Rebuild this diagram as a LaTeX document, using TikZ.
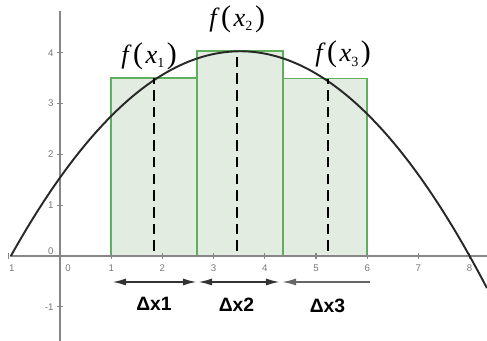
\documentclass[tikz,border=0pt]{standalone}
\usepackage{fontspec}
\setmainfont{Liberation Sans}
\newfontfamily\timesfont{Liberation Serif}
\usetikzlibrary{arrows.meta}
\definecolor{axisgray}{RGB}{135,135,135}
\definecolor{tickgray}{RGB}{120,120,120}
\definecolor{rectline}{RGB}{95,175,95}
\definecolor{rectfill}{RGB}{226,236,224}
\definecolor{curvecol}{RGB}{40,40,40}
\newcommand{\fxlabel}[1]{{\timesfont\itshape f}\kern2.5pt{\timesfont\fontsize{17}{18}\selectfont(}\kern1.5pt{\timesfont\itshape x}{\timesfont\raisebox{-0.35ex}{\fontsize{8}{9}\selectfont #1}}\kern1.5pt{\timesfont\fontsize{17}{18}\selectfont)}}
\begin{document}
\begin{tikzpicture}[x=1.024cm,y=1.016cm,
  axisline/.style={draw=axisgray,line width=0.8pt},
  tickmark/.style={draw=axisgray,line width=0.6pt},
  ticklabel/.style={text=tickgray,font=\fontsize{5.5}{6}\selectfont,inner sep=0pt},
  riemann/.style={draw=rectline,fill=rectfill,line width=0.9pt},
  midline/.style={draw=black,line width=1.6pt,dash pattern=on 6pt off 3.5pt},
  curveline/.style={draw=curvecol,line width=1.1pt},
  flabel/.style={font=\fontsize{15}{17}\selectfont,inner sep=0pt},
  dlabel/.style={font=\fontsize{11}{13}\selectfont\bfseries,inner sep=0pt},
  dimarrow/.style={line width=1.1pt,draw=black!80,{Latex[length=8pt,width=4pt]}-{Latex[length=8pt,width=4pt]}},
  dimarrowleft/.style={line width=0.9pt,draw=black!60,{Latex[length=8pt,width=4pt]}-}]
\useasboundingbox (-1.172,-1.673) rectangle (8.340,5.039);

% rectangles
\draw[riemann] (1,0) rectangle (2.676,3.50);
\draw[riemann] (2.676,0) rectangle (4.355,4.03);
\draw[riemann] (4.355,0) rectangle (6,3.49);

% axes
\draw[axisline] (-0.97,0) -- (8.34,0);
\draw[axisline] (0,-1.673) -- (0,4.82);
\foreach \i in {-1,1,2,...,8} \draw[tickmark] (\i,-0.06) -- (\i,0.06);
\foreach \j in {-1,1,2,3,4} \draw[tickmark] (-0.06,\j) -- (0.06,\j);

% tick labels
\node[ticklabel] (xm1) at (-0.94,-0.236) {1};
\node[ticklabel] (x0) at (0.156,-0.236) {0};
\foreach \i in {1,...,8} \node[ticklabel] (x\i) at (\i,-0.236) {\i};
\foreach \j in {1,2,3,4} \node[ticklabel,anchor=east] (y\j) at (-0.12,\j) {\j};
\node[ticklabel,anchor=east] (y0) at (-0.12,0.1) {0};
\node[ticklabel,anchor=east] (ym1) at (-0.12,-1) {-1};

% curve
\draw[curveline] plot[domain=-0.96:8.34,samples=120,smooth] (\x,{4.03-0.2008*(\x-3.52)*(\x-3.52)});

% dashed sample lines
\coordinate (b1) at (1.836,0.1);  \coordinate (t1) at (1.836,3.50);
\coordinate (b2) at (3.457,0.1);  \coordinate (t2) at (3.457,4.0);
\coordinate (b3) at (5.234,0.1);  \coordinate (t3) at (5.234,3.49);
\draw[midline] (b1) -- (t1);
\draw[midline] (b2) -- (t2);
\draw[midline] (b3) -- (t3);

% function labels
\node[flabel] (f1) at (1.74,3.94) {\fxlabel{1}};
\node[flabel] (f2) at (3.46,4.66) {\fxlabel{2}};
\node[flabel] (f3) at (5.53,3.96) {\fxlabel{3}};

% dimension arrows
\coordinate (a1l) at (1.016,-0.512); \coordinate (a1r) at (2.676,-0.512);
\coordinate (a2l) at (2.695,-0.512); \coordinate (a2r) at (4.297,-0.512);
\coordinate (a3l) at (4.336,-0.512); \coordinate (a3r) at (6.05,-0.512);
\draw[dimarrow] (a1l) -- (a1r);
\draw[dimarrow] (a2l) -- (a2r);
\draw[dimarrowleft] (a3l) -- (a3r);

\node[dlabel] (d1) at (1.836,-0.94) {Δx1};
\node[dlabel] (d2) at (3.447,-0.965) {Δx2};
\node[dlabel] (d3) at (5.225,-0.985) {Δx3};
\end{tikzpicture}
\end{document}
